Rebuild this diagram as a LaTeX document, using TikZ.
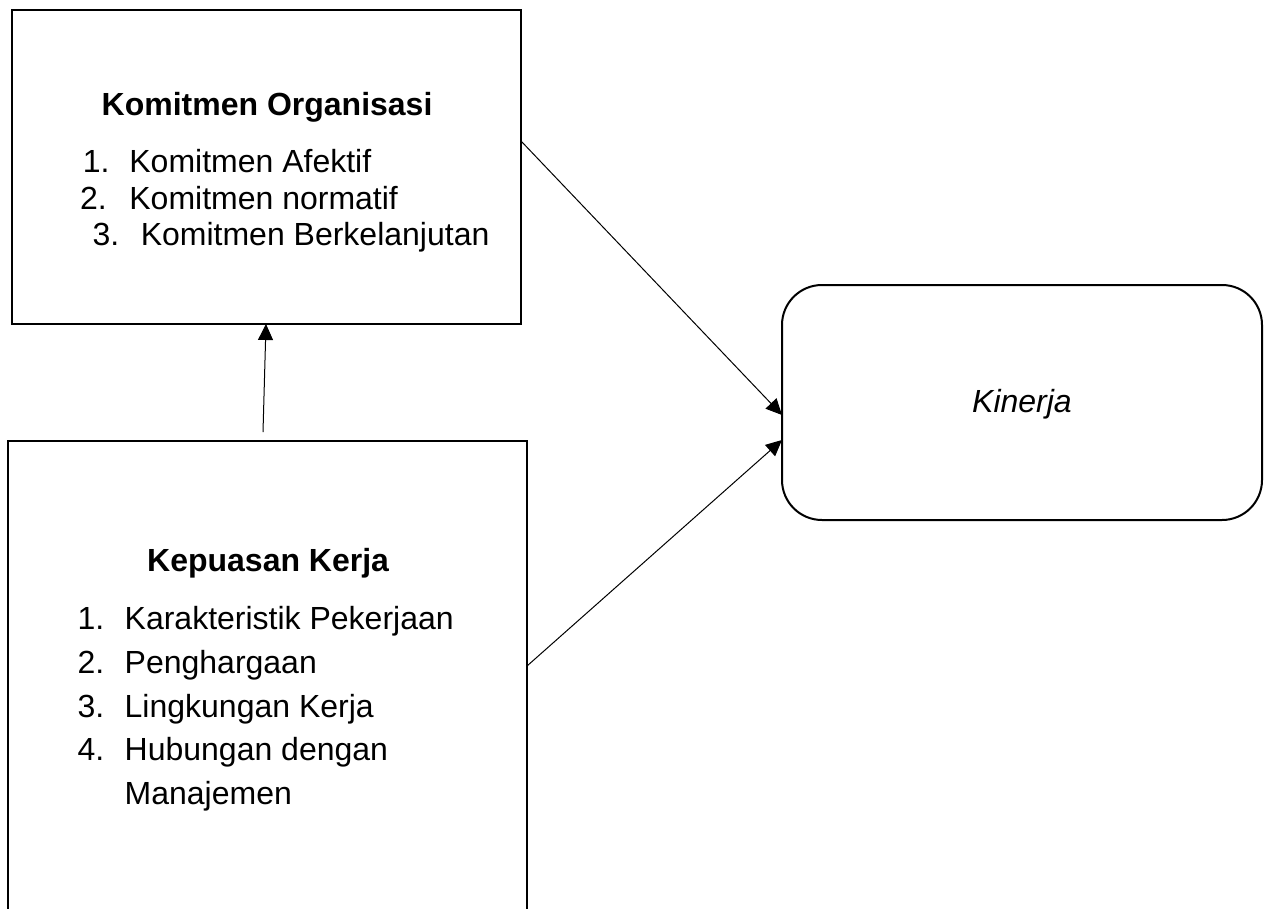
\documentclass[tikz,border=0pt]{standalone}
\usepackage{fontspec}
\setmainfont{Liberation Sans}
\usetikzlibrary{arrows.meta}
\begin{document}
\begin{tikzpicture}[x=1pt,y=-1pt,
  box/.style={draw, line width=2pt, outer sep=0pt, inner sep=0pt},
  txt/.style={anchor=base west, inner sep=0pt, font=\fontsize{32}{37}\selectfont},
  hd/.style={anchor=base west, inner sep=0pt, font=\fontsize{32}{37}\selectfont\bfseries},
  arr/.style={line width=1pt, -{Triangle[length=16pt,width=15pt]}}]
\clip (0,0) rectangle (1269,908);
\fill[white] (0,0) rectangle (1269,908);
% boxes
\node[box, minimum width=509pt, minimum height=314pt] (org) at (266.5,167) {};
\node[box, minimum width=519.5pt, minimum height=519pt] (kep) at (267.25,700.5) {};
\node[box, rounded corners=40pt, minimum width=480pt, minimum height=235pt] (kin) at (1022,402.5) {};
\node[anchor=base, inner sep=0pt, font=\fontsize{32}{37}\selectfont\itshape] (kinT) at (1022,412.5) {Kinerja};
% top box text
\node[hd] (orgT) at (101.5,115.5) {Komitmen Organisasi};
\node[txt] (o1n) at (82.7,172.5) {1.};
\node[txt] (o1t) at (129.2,172.5) {Komitmen Afektif};
\node[txt] (o2n) at (80,209) {2.};
\node[txt] (o2t) at (129.2,209) {Komitmen normatif};
\node[txt] (o3n) at (92.4,245.5) {3.};
\node[txt] (o3t) at (140.6,245.5) {Komitmen Berkelanjutan};
% bottom box text
\node[hd] (kepT) at (147,571) {Kepuasan Kerja};
\node[txt] (k1n) at (77.4,629) {1.};
\node[txt] (k1t) at (124.5,629) {Karakteristik Pekerjaan};
\node[txt] (k2n) at (77.4,673) {2.};
\node[txt] (k2t) at (124.5,673) {Penghargaan};
\node[txt] (k3n) at (77.4,717) {3.};
\node[txt] (k3t) at (124.5,717) {Lingkungan Kerja};
\node[txt] (k4n) at (77.4,760.5) {4.};
\node[txt] (k4t) at (124.5,760.5) {Hubungan dengan};
\node[txt] (k5t) at (124.5,804) {Manajemen};
% connectors
\coordinate (vstart) at (263,432);
\draw[arr] (vstart) -- (org.south -| 266,0);
\draw[arr] (org.east |- 0,141) -- (kin.west |- 0,415);
\draw[arr] (kep.east |- 0,666) -- (kin.west |- 0,440);
\end{tikzpicture}
\end{document}
